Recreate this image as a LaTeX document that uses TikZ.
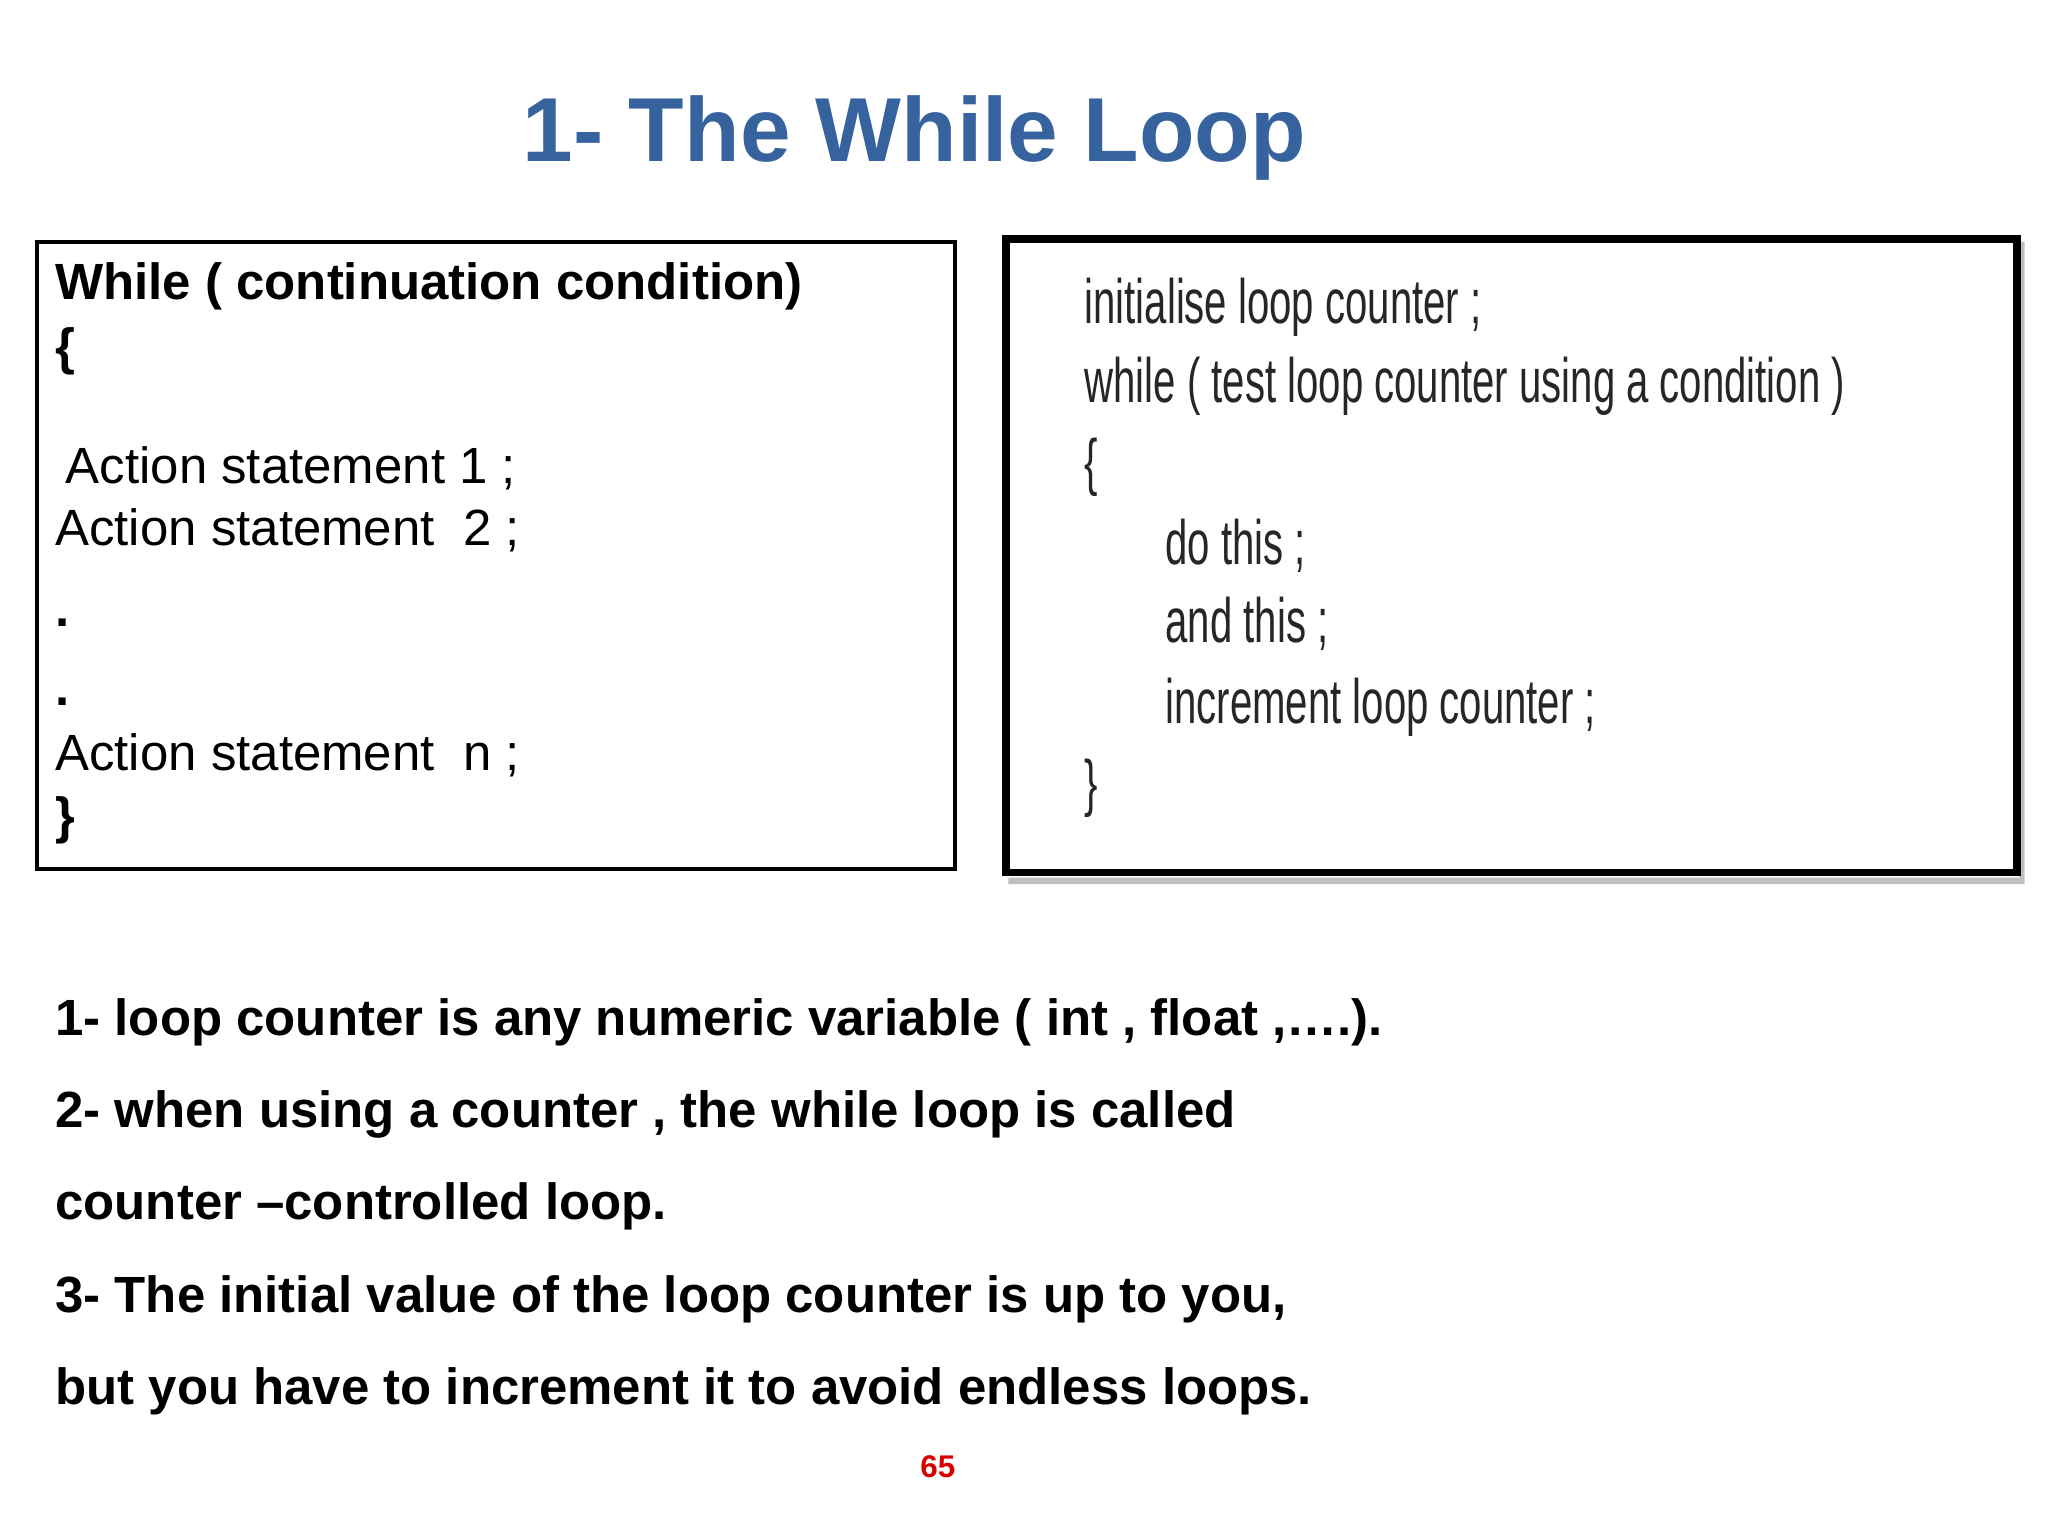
\documentclass[tikz,border=0pt]{standalone}
\usepackage{fontspec}
\setmainfont{Liberation Sans}
\newfontfamily\narrow[FakeStretch=0.64]{Liberation Sans}
\definecolor{ttl}{RGB}{54,98,158}
\begin{document}
\begin{tikzpicture}[x=0.5pt,y=-0.5pt,
  lt/.style={anchor=base west,inner sep=0,font=\fontsize{19.5}{22}\selectfont},
  bt/.style={lt,font=\fontsize{19.5}{22}\selectfont\bfseries},
  rt/.style={anchor=base west,inner sep=0,font=\narrow\fontsize{24}{26}\selectfont,text=black!85}]
\useasboundingbox (0,0) rectangle (1568,1176);
\node[anchor=base,inner sep=0,font=\fontsize{34.8}{38}\selectfont\bfseries,text=ttl] (title) at (700,124) {1- The While Loop};
\node[draw,line width=1.5pt,minimum width=351.5pt,minimum height=240pt,anchor=north west,inner sep=0] (lbox) at (27,184) {};
\fill[black!25] (772,672) rectangle (1550,677) (1546,185) rectangle (1550,677);
\node[draw,line width=3pt,fill=white,minimum width=387pt,minimum height=242.5pt,anchor=north west,inner sep=0] (rbox) at (767,180) {};
\node[bt] (l1) at (42,229) {While ( continuation condition)};
\node[bt] (l2) at (42,279) {\{};
\node[lt] (l3) at (50,370) {Action statement 1 ;};
\node[lt] (l4) at (42,418) {Action statement \ 2 ;};
\node[bt] (l5) at (42,480) {.};
\node[bt] (l6) at (42,540) {.};
\node[lt] (l7) at (42,590) {Action statement \ n ;};
\node[bt] (l8) at (42,638) {\}};
\node[rt] (r1) at (830,248) {initialise loop counter ;};
\node[rt] (r2) at (830,308) {while ( test loop counter using a condition )};
\node[rt] (r3) at (830,370) {\{};
\node[rt] (r4) at (892,432) {do this ;};
\node[rt] (r5) at (892,492) {and this ;};
\node[rt] (r6) at (892,554) {increment loop counter ;};
\node[rt] (r7) at (830,616) {\}};
\node[bt] (b1) at (42,793) {1- loop counter is any numeric variable ( int , float ,\dots.).};
\node[bt] (b2) at (42,863) {2- when using a counter , the while loop is called};
\node[bt] (b3) at (42,934) {counter --controlled loop.};
\node[bt] (b4) at (42,1005) {3- The initial value of the loop counter is up to you,};
\node[bt] (b5) at (42,1075) {but you have to increment it to avoid endless loops.};
\node[anchor=base,inner sep=0,font=\fontsize{12}{14}\selectfont\bfseries,text=red!85!black] (pg) at (718,1131) {65};
\end{tikzpicture}
\end{document}
